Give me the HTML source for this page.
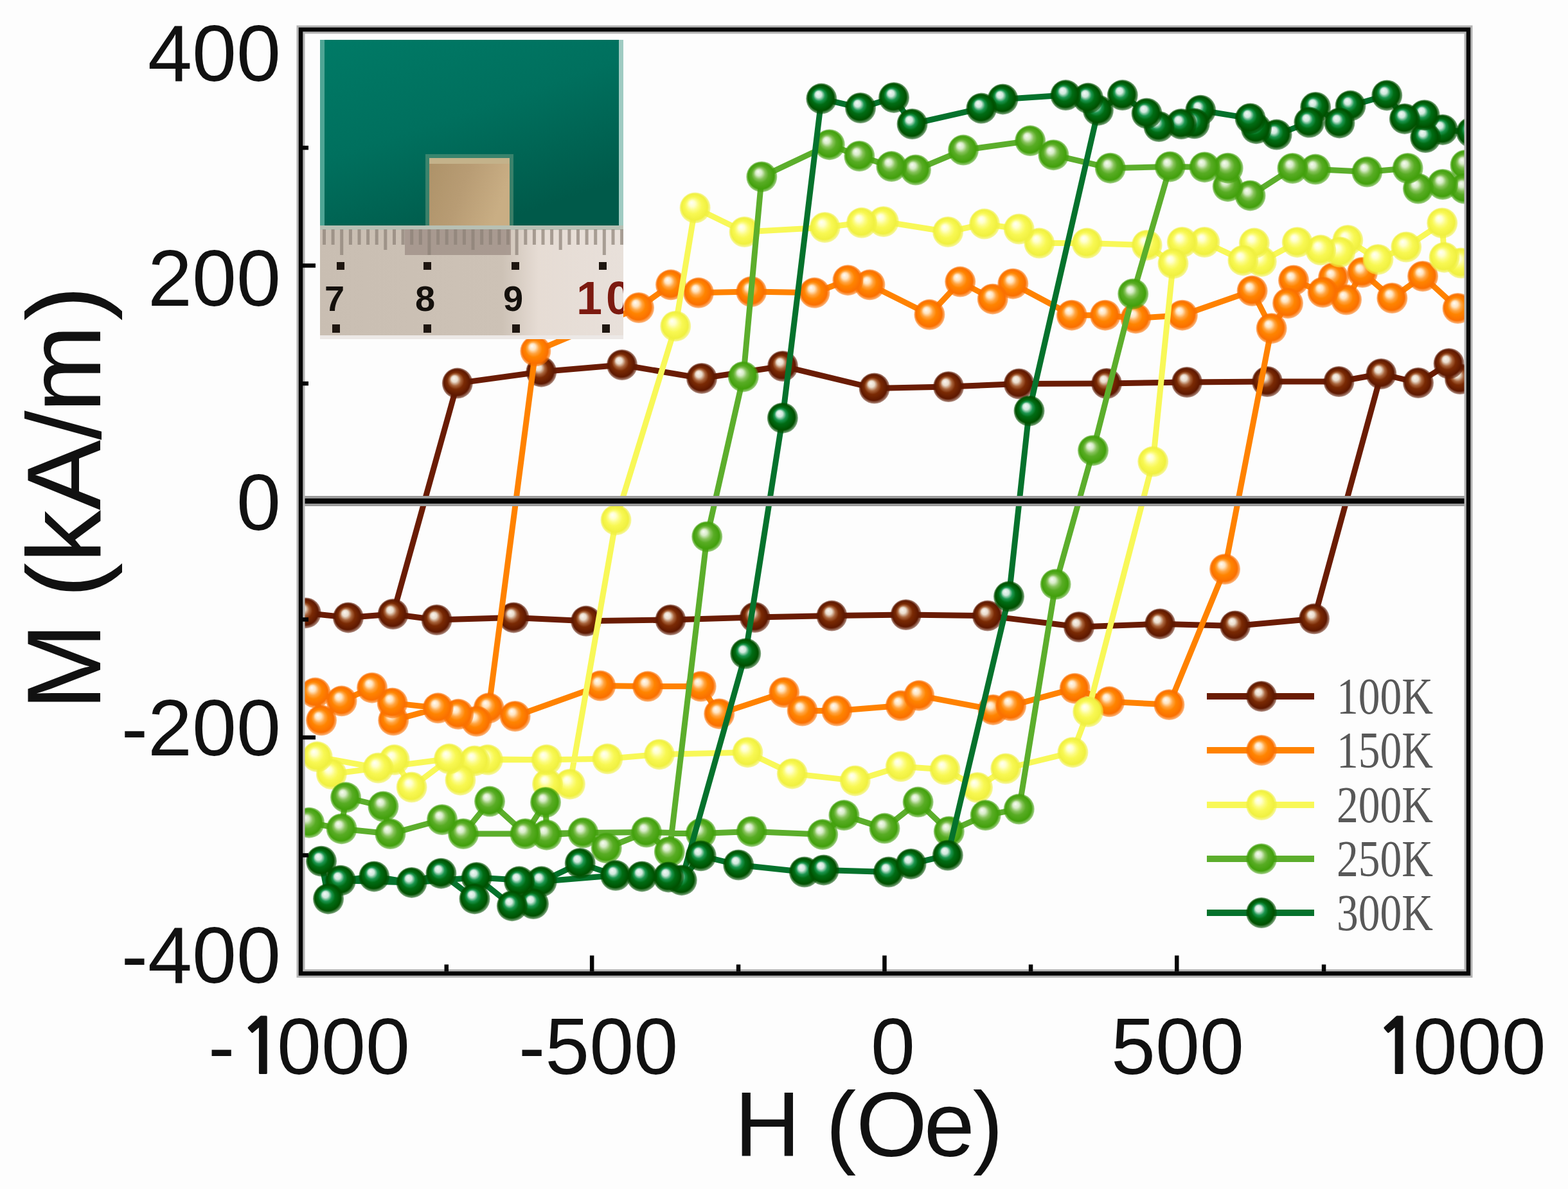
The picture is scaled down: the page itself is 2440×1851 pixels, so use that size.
<!DOCTYPE html>
<html lang="en"><head><meta charset="utf-8"><title>M-H hysteresis loops</title>
<style>html,body{margin:0;padding:0;background:#fdfdfd;}svg{display:block;}.tk{font-family:"Liberation Sans",Arial,sans-serif;font-size:124px;fill:#111;}.ttl{font-family:"Liberation Sans",Arial,sans-serif;fill:#111;}.lg{font-family:"Liberation Serif","Times New Roman",serif;font-size:80px;fill:#585858;}.rl{font-family:"Liberation Sans",Arial,sans-serif;font-weight:bold;font-size:56px;}</style></head><body>
<svg width="2440" height="1851" viewBox="0 0 2440 1851">
<defs>
<radialGradient id="gk100" cx="0.5" cy="0.5" r="0.5" fx="0.38" fy="0.33">
<stop offset="0" stop-color="#fbf6f0"/>
<stop offset="0.2" stop-color="#eadccc"/>
<stop offset="0.38" stop-color="#a8643c"/>
<stop offset="0.55" stop-color="#7a2a04"/>
<stop offset="0.84" stop-color="#5e1800"/>
<stop offset="1" stop-color="#5e1800" stop-opacity="0.45"/>
</radialGradient>
<radialGradient id="gk150" cx="0.5" cy="0.5" r="0.5" fx="0.38" fy="0.33">
<stop offset="0" stop-color="#fffcf6"/>
<stop offset="0.2" stop-color="#ffe4c0"/>
<stop offset="0.38" stop-color="#ffa440"/>
<stop offset="0.55" stop-color="#ff8400"/>
<stop offset="0.84" stop-color="#fa7000"/>
<stop offset="1" stop-color="#fa7000" stop-opacity="0.45"/>
</radialGradient>
<radialGradient id="gk200" cx="0.5" cy="0.5" r="0.5" fx="0.38" fy="0.33">
<stop offset="0" stop-color="#fffff6"/>
<stop offset="0.2" stop-color="#ffffcc"/>
<stop offset="0.38" stop-color="#fcfc80"/>
<stop offset="0.55" stop-color="#f8f852"/>
<stop offset="0.84" stop-color="#f0f040"/>
<stop offset="1" stop-color="#f0f040" stop-opacity="0.45"/>
</radialGradient>
<radialGradient id="gk250" cx="0.5" cy="0.5" r="0.5" fx="0.38" fy="0.33">
<stop offset="0" stop-color="#f8fcf4"/>
<stop offset="0.2" stop-color="#d8ecc8"/>
<stop offset="0.38" stop-color="#86c25a"/>
<stop offset="0.55" stop-color="#58ac24"/>
<stop offset="0.84" stop-color="#42a00c"/>
<stop offset="1" stop-color="#42a00c" stop-opacity="0.45"/>
</radialGradient>
<radialGradient id="gk300" cx="0.5" cy="0.5" r="0.5" fx="0.38" fy="0.33">
<stop offset="0" stop-color="#f4faf8"/>
<stop offset="0.2" stop-color="#cfe8dc"/>
<stop offset="0.38" stop-color="#1c9650"/>
<stop offset="0.55" stop-color="#006c14"/>
<stop offset="0.84" stop-color="#005000"/>
<stop offset="1" stop-color="#005000" stop-opacity="0.45"/>
</radialGradient>
<clipPath id="plot"><rect x="471" y="49" width="1811" height="1464"/></clipPath>
<clipPath id="ins"><rect x="498" y="62" width="472" height="467"/></clipPath>
<linearGradient id="teal" x1="0" y1="0" x2="0.55" y2="1"><stop offset="0" stop-color="#007a66"/><stop offset="0.5" stop-color="#00705e"/><stop offset="1" stop-color="#005a4a"/></linearGradient>
<linearGradient id="rul" x1="0" y1="0" x2="1" y2="0"><stop offset="0" stop-color="#c9beb2"/><stop offset="0.6" stop-color="#cdc2b6"/><stop offset="0.72" stop-color="#e6dcd4"/><stop offset="1" stop-color="#e8e0da"/></linearGradient>
<linearGradient id="samp" x1="0" y1="0" x2="1" y2="0.3"><stop offset="0" stop-color="#ad9268"/><stop offset="0.5" stop-color="#b89c74"/><stop offset="1" stop-color="#c9ae84"/></linearGradient>
</defs>
<rect width="2440" height="1851" fill="#fdfdfd"/>
<g clip-path="url(#plot)">
<polyline points="2272,590 2254.6,566 2207,596 2149.3,582 2083.5,594 1972,594 1847,595 1722,597 1585.7,597.5 1476,602 1360.6,604.5 1218,570 1092,589 968,568 842.3,578.7 711.8,596.6 611.6,956 541.9,961.4 475.7,954.2 541.9,961.4 611.6,956 679.6,965 799.4,961.4 912,966.8 1043.4,965 1174.7,961 1294.4,958.6 1409.7,957 1536.8,958.6 1679,976 1805.2,971.2 1922,974.4 2045,963.3 2149.3,582" fill="none" stroke="#6a1c04" stroke-width="9" stroke-linejoin="round" stroke-linecap="round"/>
<circle cx="2272" cy="590" r="24" fill="url(#gk100)"/>
<circle cx="2254.6" cy="566" r="24" fill="url(#gk100)"/>
<circle cx="2207" cy="596" r="24" fill="url(#gk100)"/>
<circle cx="2149.3" cy="582" r="24" fill="url(#gk100)"/>
<circle cx="2083.5" cy="594" r="24" fill="url(#gk100)"/>
<circle cx="1972" cy="594" r="24" fill="url(#gk100)"/>
<circle cx="1847" cy="595" r="24" fill="url(#gk100)"/>
<circle cx="1722" cy="597" r="24" fill="url(#gk100)"/>
<circle cx="1585.7" cy="597.5" r="24" fill="url(#gk100)"/>
<circle cx="1476" cy="602" r="24" fill="url(#gk100)"/>
<circle cx="1360.6" cy="604.5" r="24" fill="url(#gk100)"/>
<circle cx="1218" cy="570" r="24" fill="url(#gk100)"/>
<circle cx="1092" cy="589" r="24" fill="url(#gk100)"/>
<circle cx="968" cy="568" r="24" fill="url(#gk100)"/>
<circle cx="842.3" cy="578.7" r="24" fill="url(#gk100)"/>
<circle cx="711.8" cy="596.6" r="24" fill="url(#gk100)"/>
<circle cx="611.6" cy="956" r="24" fill="url(#gk100)"/>
<circle cx="541.9" cy="961.4" r="24" fill="url(#gk100)"/>
<circle cx="475.7" cy="954.2" r="24" fill="url(#gk100)"/>
<circle cx="679.6" cy="965" r="24" fill="url(#gk100)"/>
<circle cx="799.4" cy="961.4" r="24" fill="url(#gk100)"/>
<circle cx="912" cy="966.8" r="24" fill="url(#gk100)"/>
<circle cx="1043.4" cy="965" r="24" fill="url(#gk100)"/>
<circle cx="1174.7" cy="961" r="24" fill="url(#gk100)"/>
<circle cx="1294.4" cy="958.6" r="24" fill="url(#gk100)"/>
<circle cx="1409.7" cy="957" r="24" fill="url(#gk100)"/>
<circle cx="1536.8" cy="958.6" r="24" fill="url(#gk100)"/>
<circle cx="1679" cy="976" r="24" fill="url(#gk100)"/>
<circle cx="1805.2" cy="971.2" r="24" fill="url(#gk100)"/>
<circle cx="1922" cy="974.4" r="24" fill="url(#gk100)"/>
<circle cx="2045" cy="963.3" r="24" fill="url(#gk100)"/>
<polyline points="2268.5,480 2214,430 2166.3,464 2120,424 2095,466.5 2075,432.3 2058.5,455 2013,436.4 2004,472 1978.6,511.2 1948.6,452.8 1839.9,490.7 1767.3,495.4 1719.9,490.7 1667.8,490.7 1576.3,441.7 1544.7,465.4 1494.2,438.6 1446.4,489.8 1353.4,443.3 1319.4,436.2 1267.5,455.8 1169.2,454 1087,455.8 1044,443.3 994,479 833.3,546.6 760.6,1102.3 741.6,1122.8 713.2,1111.8 681.6,1102.3 612.2,1121.3 610.6,1094.4 579,1070.7 531.6,1091.3 500,1121.3 490.6,1078.6 531.6,1091.3 579,1070.7 610.6,1094.4 681.6,1102.3 713.2,1111.8 760.6,1102.3 801.6,1115 934.3,1067.6 1008,1068.6 1090.7,1068.6 1119.2,1111.2 1220.2,1078 1248.6,1106.5 1302.3,1106.5 1401.8,1098.6 1430.2,1082.8 1545.4,1104.9 1573.1,1098.6 1672.6,1071.7 1726.3,1092.3 1819.4,1097 1906,886 1978.6,511.2" fill="none" stroke="#ff8200" stroke-width="9" stroke-linejoin="round" stroke-linecap="round"/>
<circle cx="2268.5" cy="480" r="24" fill="url(#gk150)"/>
<circle cx="2214" cy="430" r="24" fill="url(#gk150)"/>
<circle cx="2166.3" cy="464" r="24" fill="url(#gk150)"/>
<circle cx="2120" cy="424" r="24" fill="url(#gk150)"/>
<circle cx="2095" cy="466.5" r="24" fill="url(#gk150)"/>
<circle cx="2075" cy="432.3" r="24" fill="url(#gk150)"/>
<circle cx="2058.5" cy="455" r="24" fill="url(#gk150)"/>
<circle cx="2013" cy="436.4" r="24" fill="url(#gk150)"/>
<circle cx="2004" cy="472" r="24" fill="url(#gk150)"/>
<circle cx="1978.6" cy="511.2" r="24" fill="url(#gk150)"/>
<circle cx="1948.6" cy="452.8" r="24" fill="url(#gk150)"/>
<circle cx="1839.9" cy="490.7" r="24" fill="url(#gk150)"/>
<circle cx="1767.3" cy="495.4" r="24" fill="url(#gk150)"/>
<circle cx="1719.9" cy="490.7" r="24" fill="url(#gk150)"/>
<circle cx="1667.8" cy="490.7" r="24" fill="url(#gk150)"/>
<circle cx="1576.3" cy="441.7" r="24" fill="url(#gk150)"/>
<circle cx="1544.7" cy="465.4" r="24" fill="url(#gk150)"/>
<circle cx="1494.2" cy="438.6" r="24" fill="url(#gk150)"/>
<circle cx="1446.4" cy="489.8" r="24" fill="url(#gk150)"/>
<circle cx="1353.4" cy="443.3" r="24" fill="url(#gk150)"/>
<circle cx="1319.4" cy="436.2" r="24" fill="url(#gk150)"/>
<circle cx="1267.5" cy="455.8" r="24" fill="url(#gk150)"/>
<circle cx="1169.2" cy="454" r="24" fill="url(#gk150)"/>
<circle cx="1087" cy="455.8" r="24" fill="url(#gk150)"/>
<circle cx="1044" cy="443.3" r="24" fill="url(#gk150)"/>
<circle cx="994" cy="479" r="24" fill="url(#gk150)"/>
<circle cx="833.3" cy="546.6" r="24" fill="url(#gk150)"/>
<circle cx="760.6" cy="1102.3" r="24" fill="url(#gk150)"/>
<circle cx="741.6" cy="1122.8" r="24" fill="url(#gk150)"/>
<circle cx="713.2" cy="1111.8" r="24" fill="url(#gk150)"/>
<circle cx="681.6" cy="1102.3" r="24" fill="url(#gk150)"/>
<circle cx="612.2" cy="1121.3" r="24" fill="url(#gk150)"/>
<circle cx="610.6" cy="1094.4" r="24" fill="url(#gk150)"/>
<circle cx="579" cy="1070.7" r="24" fill="url(#gk150)"/>
<circle cx="531.6" cy="1091.3" r="24" fill="url(#gk150)"/>
<circle cx="500" cy="1121.3" r="24" fill="url(#gk150)"/>
<circle cx="490.6" cy="1078.6" r="24" fill="url(#gk150)"/>
<circle cx="801.6" cy="1115" r="24" fill="url(#gk150)"/>
<circle cx="934.3" cy="1067.6" r="24" fill="url(#gk150)"/>
<circle cx="1008" cy="1068.6" r="24" fill="url(#gk150)"/>
<circle cx="1090.7" cy="1068.6" r="24" fill="url(#gk150)"/>
<circle cx="1119.2" cy="1111.2" r="24" fill="url(#gk150)"/>
<circle cx="1220.2" cy="1078" r="24" fill="url(#gk150)"/>
<circle cx="1248.6" cy="1106.5" r="24" fill="url(#gk150)"/>
<circle cx="1302.3" cy="1106.5" r="24" fill="url(#gk150)"/>
<circle cx="1401.8" cy="1098.6" r="24" fill="url(#gk150)"/>
<circle cx="1430.2" cy="1082.8" r="24" fill="url(#gk150)"/>
<circle cx="1545.4" cy="1104.9" r="24" fill="url(#gk150)"/>
<circle cx="1573.1" cy="1098.6" r="24" fill="url(#gk150)"/>
<circle cx="1672.6" cy="1071.7" r="24" fill="url(#gk150)"/>
<circle cx="1726.3" cy="1092.3" r="24" fill="url(#gk150)"/>
<circle cx="1819.4" cy="1097" r="24" fill="url(#gk150)"/>
<circle cx="1906" cy="886" r="24" fill="url(#gk150)"/>
<polyline points="2273.5,409.5 2247.5,400.7 2244.2,347.2 2188.2,384.5 2144.4,403.9 2097.3,374 2085.2,392.5 2055.2,389.3 2018.7,377.2 1962.8,407 1951.8,378.6 1934.4,405.4 1874.4,377 1839.7,377 1825.5,410.2 1784.7,381.7 1691.5,378.6 1617.3,378.6 1585.7,356.5 1532,348.6 1475.1,361 1374.8,345 1340.9,346.8 1283.6,354 1158.5,361 1081.6,323.5 1051.2,507.7 958.5,809.4 886.9,1220.7 852,1220.7 850.6,1182.8 759,1182.8 738.5,1184.4 716.4,1214.4 699,1181.3 640.6,1225.5 613.7,1182.8 588.5,1195.5 515.8,1205 493.7,1178.1 588.5,1195.5 699,1181.3 850.6,1182.8 945.3,1181.3 1026,1174.4 1163.4,1171.2 1232.8,1204.4 1330.7,1215.4 1401.8,1193.3 1470.5,1198 1521,1226 1565.2,1196.5 1669.4,1171.2 1693.1,1108 1794.2,718.6 1825.5,410.2" fill="none" stroke="#f8f858" stroke-width="9" stroke-linejoin="round" stroke-linecap="round"/>
<circle cx="2273.5" cy="409.5" r="24" fill="url(#gk200)"/>
<circle cx="2247.5" cy="400.7" r="24" fill="url(#gk200)"/>
<circle cx="2244.2" cy="347.2" r="24" fill="url(#gk200)"/>
<circle cx="2188.2" cy="384.5" r="24" fill="url(#gk200)"/>
<circle cx="2144.4" cy="403.9" r="24" fill="url(#gk200)"/>
<circle cx="2097.3" cy="374" r="24" fill="url(#gk200)"/>
<circle cx="2085.2" cy="392.5" r="24" fill="url(#gk200)"/>
<circle cx="2055.2" cy="389.3" r="24" fill="url(#gk200)"/>
<circle cx="2018.7" cy="377.2" r="24" fill="url(#gk200)"/>
<circle cx="1962.8" cy="407" r="24" fill="url(#gk200)"/>
<circle cx="1951.8" cy="378.6" r="24" fill="url(#gk200)"/>
<circle cx="1934.4" cy="405.4" r="24" fill="url(#gk200)"/>
<circle cx="1874.4" cy="377" r="24" fill="url(#gk200)"/>
<circle cx="1839.7" cy="377" r="24" fill="url(#gk200)"/>
<circle cx="1825.5" cy="410.2" r="24" fill="url(#gk200)"/>
<circle cx="1784.7" cy="381.7" r="24" fill="url(#gk200)"/>
<circle cx="1691.5" cy="378.6" r="24" fill="url(#gk200)"/>
<circle cx="1617.3" cy="378.6" r="24" fill="url(#gk200)"/>
<circle cx="1585.7" cy="356.5" r="24" fill="url(#gk200)"/>
<circle cx="1532" cy="348.6" r="24" fill="url(#gk200)"/>
<circle cx="1475.1" cy="361" r="24" fill="url(#gk200)"/>
<circle cx="1374.8" cy="345" r="24" fill="url(#gk200)"/>
<circle cx="1340.9" cy="346.8" r="24" fill="url(#gk200)"/>
<circle cx="1283.6" cy="354" r="24" fill="url(#gk200)"/>
<circle cx="1158.5" cy="361" r="24" fill="url(#gk200)"/>
<circle cx="1081.6" cy="323.5" r="24" fill="url(#gk200)"/>
<circle cx="1051.2" cy="507.7" r="24" fill="url(#gk200)"/>
<circle cx="958.5" cy="809.4" r="24" fill="url(#gk200)"/>
<circle cx="886.9" cy="1220.7" r="24" fill="url(#gk200)"/>
<circle cx="852" cy="1220.7" r="24" fill="url(#gk200)"/>
<circle cx="850.6" cy="1182.8" r="24" fill="url(#gk200)"/>
<circle cx="759" cy="1182.8" r="24" fill="url(#gk200)"/>
<circle cx="738.5" cy="1184.4" r="24" fill="url(#gk200)"/>
<circle cx="716.4" cy="1214.4" r="24" fill="url(#gk200)"/>
<circle cx="699" cy="1181.3" r="24" fill="url(#gk200)"/>
<circle cx="640.6" cy="1225.5" r="24" fill="url(#gk200)"/>
<circle cx="613.7" cy="1182.8" r="24" fill="url(#gk200)"/>
<circle cx="588.5" cy="1195.5" r="24" fill="url(#gk200)"/>
<circle cx="515.8" cy="1205" r="24" fill="url(#gk200)"/>
<circle cx="493.7" cy="1178.1" r="24" fill="url(#gk200)"/>
<circle cx="945.3" cy="1181.3" r="24" fill="url(#gk200)"/>
<circle cx="1026" cy="1174.4" r="24" fill="url(#gk200)"/>
<circle cx="1163.4" cy="1171.2" r="24" fill="url(#gk200)"/>
<circle cx="1232.8" cy="1204.4" r="24" fill="url(#gk200)"/>
<circle cx="1330.7" cy="1215.4" r="24" fill="url(#gk200)"/>
<circle cx="1401.8" cy="1193.3" r="24" fill="url(#gk200)"/>
<circle cx="1470.5" cy="1198" r="24" fill="url(#gk200)"/>
<circle cx="1521" cy="1226" r="24" fill="url(#gk200)"/>
<circle cx="1565.2" cy="1196.5" r="24" fill="url(#gk200)"/>
<circle cx="1669.4" cy="1171.2" r="24" fill="url(#gk200)"/>
<circle cx="1693.1" cy="1108" r="24" fill="url(#gk200)"/>
<circle cx="1794.2" cy="718.6" r="24" fill="url(#gk200)"/>
<polyline points="2280.5,257 2279,293.5 2245,287 2206.9,293.6 2190.6,262 2127.3,267.6 2047,263.6 2011.4,262 1945.5,304.4 1910.7,290.2 1910.7,261.7 1874.5,260.2 1820.8,259.4 1727.8,261.7 1639.4,241.2 1603.1,219.1 1499,233.6 1424.9,264.5 1387.3,259.1 1337.3,243 1290.8,225.2 1185.3,275.2 1156.7,586.4 1100.2,835.4 1041.8,1326 1006,1295.5 943.7,1320.2 907.4,1296.5 850.6,1299.7 849,1249 817.4,1298 762,1247.6 721,1298 688,1276 607.4,1298.1 596.4,1255.5 538,1241.3 531.6,1290.2 481,1280.7 531.6,1290.2 607.4,1298.1 688,1276 721,1298 817.4,1298 907.4,1296.5 1006,1295.5 1090.7,1297.5 1169.7,1294.4 1280.2,1299.1 1313.4,1269.1 1376.5,1289.6 1428.6,1248.6 1476.8,1294.4 1533.6,1269.1 1585.7,1259.6 1642.6,909.6 1701,701.2 1763.2,457.5 1820.8,259.4" fill="none" stroke="#5cae2c" stroke-width="9" stroke-linejoin="round" stroke-linecap="round"/>
<circle cx="2280.5" cy="257" r="24" fill="url(#gk250)"/>
<circle cx="2279" cy="293.5" r="24" fill="url(#gk250)"/>
<circle cx="2245" cy="287" r="24" fill="url(#gk250)"/>
<circle cx="2206.9" cy="293.6" r="24" fill="url(#gk250)"/>
<circle cx="2190.6" cy="262" r="24" fill="url(#gk250)"/>
<circle cx="2127.3" cy="267.6" r="24" fill="url(#gk250)"/>
<circle cx="2047" cy="263.6" r="24" fill="url(#gk250)"/>
<circle cx="2011.4" cy="262" r="24" fill="url(#gk250)"/>
<circle cx="1945.5" cy="304.4" r="24" fill="url(#gk250)"/>
<circle cx="1910.7" cy="290.2" r="24" fill="url(#gk250)"/>
<circle cx="1910.7" cy="261.7" r="24" fill="url(#gk250)"/>
<circle cx="1874.5" cy="260.2" r="24" fill="url(#gk250)"/>
<circle cx="1820.8" cy="259.4" r="24" fill="url(#gk250)"/>
<circle cx="1727.8" cy="261.7" r="24" fill="url(#gk250)"/>
<circle cx="1639.4" cy="241.2" r="24" fill="url(#gk250)"/>
<circle cx="1603.1" cy="219.1" r="24" fill="url(#gk250)"/>
<circle cx="1499" cy="233.6" r="24" fill="url(#gk250)"/>
<circle cx="1424.9" cy="264.5" r="24" fill="url(#gk250)"/>
<circle cx="1387.3" cy="259.1" r="24" fill="url(#gk250)"/>
<circle cx="1337.3" cy="243" r="24" fill="url(#gk250)"/>
<circle cx="1290.8" cy="225.2" r="24" fill="url(#gk250)"/>
<circle cx="1185.3" cy="275.2" r="24" fill="url(#gk250)"/>
<circle cx="1156.7" cy="586.4" r="24" fill="url(#gk250)"/>
<circle cx="1100.2" cy="835.4" r="24" fill="url(#gk250)"/>
<circle cx="1041.8" cy="1326" r="24" fill="url(#gk250)"/>
<circle cx="1006" cy="1295.5" r="24" fill="url(#gk250)"/>
<circle cx="943.7" cy="1320.2" r="24" fill="url(#gk250)"/>
<circle cx="907.4" cy="1296.5" r="24" fill="url(#gk250)"/>
<circle cx="850.6" cy="1299.7" r="24" fill="url(#gk250)"/>
<circle cx="849" cy="1249" r="24" fill="url(#gk250)"/>
<circle cx="817.4" cy="1298" r="24" fill="url(#gk250)"/>
<circle cx="762" cy="1247.6" r="24" fill="url(#gk250)"/>
<circle cx="721" cy="1298" r="24" fill="url(#gk250)"/>
<circle cx="688" cy="1276" r="24" fill="url(#gk250)"/>
<circle cx="607.4" cy="1298.1" r="24" fill="url(#gk250)"/>
<circle cx="596.4" cy="1255.5" r="24" fill="url(#gk250)"/>
<circle cx="538" cy="1241.3" r="24" fill="url(#gk250)"/>
<circle cx="531.6" cy="1290.2" r="24" fill="url(#gk250)"/>
<circle cx="481" cy="1280.7" r="24" fill="url(#gk250)"/>
<circle cx="1090.7" cy="1297.5" r="24" fill="url(#gk250)"/>
<circle cx="1169.7" cy="1294.4" r="24" fill="url(#gk250)"/>
<circle cx="1280.2" cy="1299.1" r="24" fill="url(#gk250)"/>
<circle cx="1313.4" cy="1269.1" r="24" fill="url(#gk250)"/>
<circle cx="1376.5" cy="1289.6" r="24" fill="url(#gk250)"/>
<circle cx="1428.6" cy="1248.6" r="24" fill="url(#gk250)"/>
<circle cx="1476.8" cy="1294.4" r="24" fill="url(#gk250)"/>
<circle cx="1533.6" cy="1269.1" r="24" fill="url(#gk250)"/>
<circle cx="1585.7" cy="1259.6" r="24" fill="url(#gk250)"/>
<circle cx="1642.6" cy="909.6" r="24" fill="url(#gk250)"/>
<circle cx="1701" cy="701.2" r="24" fill="url(#gk250)"/>
<circle cx="1763.2" cy="457.5" r="24" fill="url(#gk250)"/>
<polyline points="2290,206 2245,201.9 2218.2,214.1 2216.6,179.2 2185.8,184.9 2158.2,148.4 2101.5,164.6 2084.4,191.4 2047.1,167 2037.3,190.5 1986.6,209.6 1954.9,200.2 1945.6,184.4 1868.2,171.7 1858.7,192.3 1838.2,193 1803.5,197 1784.5,176.5 1746.8,148.1 1708.9,171.7 1693.1,152.8 1658.4,148.1 1560.5,154.4 1527.3,168.6 1419.5,193 1391,151.9 1339,168 1278.3,153.6 1217.8,650.7 1160.2,1017.5 1060.7,1370.2 1040.2,1365.4 999,1364.4 958,1362.8 902.7,1343.9 842.7,1372.3 830,1407 808,1372.3 796.9,1410.2 741.6,1366 738.5,1399.2 686.4,1359.7 640.6,1373.9 582.2,1364.4 530,1370.7 511,1399.2 500,1340.7 530,1370.7 640.6,1373.9 741.6,1366 842.7,1372.3 958,1362.8 1060.7,1370.2 1090.7,1332.3 1149.2,1346.5 1251.8,1357.5 1281.8,1354.4 1382.8,1357.5 1417.6,1344.9 1474.8,1331.5 1570,928.6 1601.5,639.6 1708.9,171.7" fill="none" stroke="#05722c" stroke-width="9" stroke-linejoin="round" stroke-linecap="round"/>
<circle cx="2290" cy="206" r="24" fill="url(#gk300)"/>
<circle cx="2245" cy="201.9" r="24" fill="url(#gk300)"/>
<circle cx="2218.2" cy="214.1" r="24" fill="url(#gk300)"/>
<circle cx="2216.6" cy="179.2" r="24" fill="url(#gk300)"/>
<circle cx="2185.8" cy="184.9" r="24" fill="url(#gk300)"/>
<circle cx="2158.2" cy="148.4" r="24" fill="url(#gk300)"/>
<circle cx="2101.5" cy="164.6" r="24" fill="url(#gk300)"/>
<circle cx="2084.4" cy="191.4" r="24" fill="url(#gk300)"/>
<circle cx="2047.1" cy="167" r="24" fill="url(#gk300)"/>
<circle cx="2037.3" cy="190.5" r="24" fill="url(#gk300)"/>
<circle cx="1986.6" cy="209.6" r="24" fill="url(#gk300)"/>
<circle cx="1954.9" cy="200.2" r="24" fill="url(#gk300)"/>
<circle cx="1945.6" cy="184.4" r="24" fill="url(#gk300)"/>
<circle cx="1868.2" cy="171.7" r="24" fill="url(#gk300)"/>
<circle cx="1858.7" cy="192.3" r="24" fill="url(#gk300)"/>
<circle cx="1838.2" cy="193" r="24" fill="url(#gk300)"/>
<circle cx="1803.5" cy="197" r="24" fill="url(#gk300)"/>
<circle cx="1784.5" cy="176.5" r="24" fill="url(#gk300)"/>
<circle cx="1746.8" cy="148.1" r="24" fill="url(#gk300)"/>
<circle cx="1708.9" cy="171.7" r="24" fill="url(#gk300)"/>
<circle cx="1693.1" cy="152.8" r="24" fill="url(#gk300)"/>
<circle cx="1658.4" cy="148.1" r="24" fill="url(#gk300)"/>
<circle cx="1560.5" cy="154.4" r="24" fill="url(#gk300)"/>
<circle cx="1527.3" cy="168.6" r="24" fill="url(#gk300)"/>
<circle cx="1419.5" cy="193" r="24" fill="url(#gk300)"/>
<circle cx="1391" cy="151.9" r="24" fill="url(#gk300)"/>
<circle cx="1339" cy="168" r="24" fill="url(#gk300)"/>
<circle cx="1278.3" cy="153.6" r="24" fill="url(#gk300)"/>
<circle cx="1217.8" cy="650.7" r="24" fill="url(#gk300)"/>
<circle cx="1160.2" cy="1017.5" r="24" fill="url(#gk300)"/>
<circle cx="1060.7" cy="1370.2" r="24" fill="url(#gk300)"/>
<circle cx="1040.2" cy="1365.4" r="24" fill="url(#gk300)"/>
<circle cx="999" cy="1364.4" r="24" fill="url(#gk300)"/>
<circle cx="958" cy="1362.8" r="24" fill="url(#gk300)"/>
<circle cx="902.7" cy="1343.9" r="24" fill="url(#gk300)"/>
<circle cx="842.7" cy="1372.3" r="24" fill="url(#gk300)"/>
<circle cx="830" cy="1407" r="24" fill="url(#gk300)"/>
<circle cx="808" cy="1372.3" r="24" fill="url(#gk300)"/>
<circle cx="796.9" cy="1410.2" r="24" fill="url(#gk300)"/>
<circle cx="741.6" cy="1366" r="24" fill="url(#gk300)"/>
<circle cx="738.5" cy="1399.2" r="24" fill="url(#gk300)"/>
<circle cx="686.4" cy="1359.7" r="24" fill="url(#gk300)"/>
<circle cx="640.6" cy="1373.9" r="24" fill="url(#gk300)"/>
<circle cx="582.2" cy="1364.4" r="24" fill="url(#gk300)"/>
<circle cx="530" cy="1370.7" r="24" fill="url(#gk300)"/>
<circle cx="511" cy="1399.2" r="24" fill="url(#gk300)"/>
<circle cx="500" cy="1340.7" r="24" fill="url(#gk300)"/>
<circle cx="1090.7" cy="1332.3" r="24" fill="url(#gk300)"/>
<circle cx="1149.2" cy="1346.5" r="24" fill="url(#gk300)"/>
<circle cx="1251.8" cy="1357.5" r="24" fill="url(#gk300)"/>
<circle cx="1281.8" cy="1354.4" r="24" fill="url(#gk300)"/>
<circle cx="1382.8" cy="1357.5" r="24" fill="url(#gk300)"/>
<circle cx="1417.6" cy="1344.9" r="24" fill="url(#gk300)"/>
<circle cx="1474.8" cy="1331.5" r="24" fill="url(#gk300)"/>
<circle cx="1570" cy="928.6" r="24" fill="url(#gk300)"/>
<circle cx="1601.5" cy="639.6" r="24" fill="url(#gk300)"/>
</g>
<g clip-path="url(#ins)">
<rect x="498" y="62" width="472" height="290" fill="url(#teal)"/>
<rect x="498" y="62" width="7" height="290" fill="#4fa595"/>
<rect x="963" y="62" width="7" height="290" fill="#9fcbc2"/>
<rect x="662" y="240" width="137" height="112" fill="#6a9a80" opacity="0.55"/>
<rect x="668" y="246" width="125" height="106" fill="url(#samp)"/>
<rect x="668" y="246" width="125" height="9" fill="#c4b28a"/>
<rect x="498" y="351" width="472" height="172" fill="url(#rul)"/>
<rect x="498" y="351" width="472" height="7" fill="#b7c0b4"/>
<rect x="498" y="522" width="472" height="6" fill="#ece8e6"/>
<rect x="630" y="357" width="165" height="40" fill="#9c8c84" opacity="0.75"/>
<rect x="502" y="357" width="5" height="24" fill="#8c8076" opacity="0.7"/><rect x="515.6" y="357" width="5" height="24" fill="#8c8076" opacity="0.7"/><rect x="529.2" y="357" width="5" height="40" fill="#8c8076" opacity="0.7"/><rect x="542.9" y="357" width="5" height="24" fill="#8c8076" opacity="0.7"/><rect x="556.5" y="357" width="5" height="24" fill="#8c8076" opacity="0.7"/><rect x="570.1" y="357" width="5" height="24" fill="#8c8076" opacity="0.7"/><rect x="583.7" y="357" width="5" height="24" fill="#8c8076" opacity="0.7"/><rect x="597.3" y="357" width="5" height="32" fill="#8c8076" opacity="0.7"/><rect x="611" y="357" width="5" height="24" fill="#8c8076" opacity="0.7"/><rect x="624.6" y="357" width="5" height="24" fill="#8c8076" opacity="0.7"/><rect x="638.2" y="357" width="5" height="24" fill="#8c8076" opacity="0.7"/><rect x="651.8" y="357" width="5" height="24" fill="#8c8076" opacity="0.7"/><rect x="665.4" y="357" width="5" height="40" fill="#8c8076" opacity="0.7"/><rect x="679.1" y="357" width="5" height="24" fill="#8c8076" opacity="0.7"/><rect x="692.7" y="357" width="5" height="24" fill="#8c8076" opacity="0.7"/><rect x="706.3" y="357" width="5" height="24" fill="#8c8076" opacity="0.7"/><rect x="719.9" y="357" width="5" height="24" fill="#8c8076" opacity="0.7"/><rect x="733.5" y="357" width="5" height="32" fill="#8c8076" opacity="0.7"/><rect x="747.2" y="357" width="5" height="24" fill="#8c8076" opacity="0.7"/><rect x="760.8" y="357" width="5" height="24" fill="#8c8076" opacity="0.7"/><rect x="774.4" y="357" width="5" height="24" fill="#8c8076" opacity="0.7"/><rect x="788" y="357" width="5" height="24" fill="#8c8076" opacity="0.7"/><rect x="801.6" y="357" width="5" height="40" fill="#8c8076" opacity="0.7"/><rect x="815.3" y="357" width="5" height="24" fill="#8c8076" opacity="0.7"/><rect x="828.9" y="357" width="5" height="24" fill="#8c8076" opacity="0.7"/><rect x="842.5" y="357" width="5" height="24" fill="#8c8076" opacity="0.7"/><rect x="856.1" y="357" width="5" height="24" fill="#8c8076" opacity="0.7"/><rect x="869.7" y="357" width="5" height="32" fill="#8c8076" opacity="0.7"/><rect x="883.4" y="357" width="5" height="24" fill="#8c8076" opacity="0.7"/><rect x="897" y="357" width="5" height="24" fill="#8c8076" opacity="0.7"/><rect x="910.6" y="357" width="5" height="24" fill="#8c8076" opacity="0.7"/><rect x="924.2" y="357" width="5" height="24" fill="#8c8076" opacity="0.7"/><rect x="937.8" y="357" width="5" height="40" fill="#8c8076" opacity="0.7"/><rect x="951.5" y="357" width="5" height="24" fill="#8c8076" opacity="0.7"/><rect x="965.1" y="357" width="5" height="24" fill="#8c8076" opacity="0.7"/>
<rect x="524" y="408" width="12" height="12" fill="#1e1610"/>
<rect x="659" y="408" width="12" height="12" fill="#1e1610"/>
<rect x="796" y="408" width="12" height="12" fill="#1e1610"/>
<rect x="932" y="408" width="12" height="12" fill="#1e1610"/>
<rect x="517" y="505" width="12" height="13" fill="#1e1610"/>
<rect x="659" y="505" width="12" height="13" fill="#1e1610"/>
<rect x="797" y="505" width="12" height="13" fill="#1e1610"/>
<rect x="937" y="505" width="12" height="13" fill="#1e1610"/>
<text class="rl" x="505" y="484" fill="#14100c">7</text>
<text class="rl" x="646" y="484" fill="#14100c">8</text>
<text class="rl" x="783" y="484" fill="#14100c">9</text>
<text class="rl" x="897 943" y="489" style="font-size:72px" fill="#7c1a10">10</text>
</g>
<line x1="471" y1="780" x2="2282" y2="780" stroke="#9a9a9a" stroke-width="16"/>
<line x1="471" y1="780" x2="2282" y2="780" stroke="#050505" stroke-width="8"/>
<rect x="468" y="46" width="1817" height="1469.5" fill="none" stroke="#b4b4b4" stroke-width="13"/>
<rect x="468" y="46" width="1817" height="1469.5" fill="none" stroke="#060606" stroke-width="6.5"/>
<rect x="471" y="226.8" width="9" height="6.5" fill="#060606"/>
<rect x="471" y="410.2" width="20" height="6.5" fill="#060606"/>
<rect x="471" y="593.8" width="9" height="6.5" fill="#060606"/>
<rect x="471" y="961.2" width="9" height="6.5" fill="#060606"/>
<rect x="471" y="1144.8" width="20" height="6.5" fill="#060606"/>
<rect x="471" y="1328.2" width="9" height="6.5" fill="#060606"/>
<rect x="691.5" y="1501.5" width="6.5" height="11" fill="#060606"/>
<rect x="917.9" y="1487.5" width="6.5" height="25" fill="#060606"/>
<rect x="1145.8" y="1501.5" width="6.5" height="11" fill="#060606"/>
<rect x="1373.2" y="1487.5" width="6.5" height="25" fill="#060606"/>
<rect x="1600.8" y="1501.5" width="6.5" height="11" fill="#060606"/>
<rect x="1828" y="1487.5" width="6.5" height="25" fill="#060606"/>
<rect x="2056.8" y="1501.5" width="6.5" height="11" fill="#060606"/>
<text class="tk" x="437" y="126" text-anchor="end">400</text>
<text class="tk" x="437" y="476" text-anchor="end">200</text>
<text class="tk" x="437" y="825" text-anchor="end">0</text>
<text class="tk" x="437" y="1176" text-anchor="end">-200</text>
<text class="tk" x="437" y="1530" text-anchor="end">-400</text>
<text class="tk" x="324" y="1672">-<tspan style="font-family:NanumGothic,&quot;Liberation Sans&quot;,sans-serif;font-weight:bold;font-size:120px" dx="5">1</tspan><tspan dx="-12">000</tspan></text>
<text class="tk" x="807" y="1672">-500</text>
<text class="tk" x="1355" y="1672">0</text>
<text class="tk" x="1729" y="1672">500</text>
<text class="tk" x="2133" y="1672"><tspan style="font-family:NanumGothic,&quot;Liberation Sans&quot;,sans-serif;font-weight:bold;font-size:120px" dx="5">1</tspan><tspan dx="-12">000</tspan></text>
<text class="ttl" font-size="142" x="1143" y="1800" dx="0 0 0 0 -5 -3">H (Oe)</text>
<text class="ttl" font-size="164" transform="translate(156,1106) rotate(-90)" dx="0 -7 0 0 0 0 -3 6">M (kA/m)</text>
<line x1="1878" y1="1084" x2="2045" y2="1084" stroke="#6a1c04" stroke-width="10"/>
<circle cx="1963" cy="1084" r="24" fill="url(#gk100)"/>
<line x1="1878" y1="1168" x2="2045" y2="1168" stroke="#ff8200" stroke-width="10"/>
<circle cx="1963" cy="1168" r="24" fill="url(#gk150)"/>
<line x1="1878" y1="1253" x2="2045" y2="1253" stroke="#f8f858" stroke-width="10"/>
<circle cx="1963" cy="1253" r="24" fill="url(#gk200)"/>
<line x1="1878" y1="1337" x2="2045" y2="1337" stroke="#5cae2c" stroke-width="10"/>
<circle cx="1963" cy="1337" r="24" fill="url(#gk250)"/>
<line x1="1878" y1="1421" x2="2045" y2="1421" stroke="#05722c" stroke-width="10"/>
<circle cx="1963" cy="1421" r="24" fill="url(#gk300)"/>
<text class="lg" x="2080" y="1111" textLength="150" lengthAdjust="spacingAndGlyphs">100K</text>
<text class="lg" x="2080" y="1195" textLength="150" lengthAdjust="spacingAndGlyphs">150K</text>
<text class="lg" x="2080" y="1280" textLength="150" lengthAdjust="spacingAndGlyphs">200K</text>
<text class="lg" x="2080" y="1364" textLength="150" lengthAdjust="spacingAndGlyphs">250K</text>
<text class="lg" x="2080" y="1448" textLength="150" lengthAdjust="spacingAndGlyphs">300K</text>
</svg>
</body></html>
